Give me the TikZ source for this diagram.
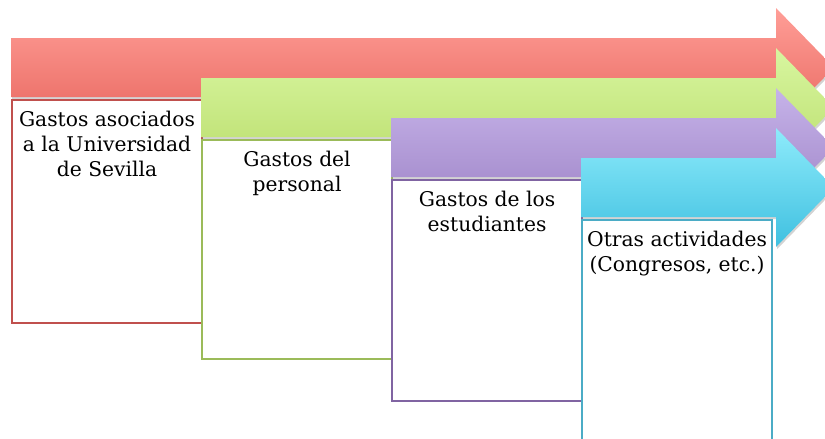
\documentclass[tikz,border=0pt]{standalone}
\usepackage{fontspec}
\setmainfont{DejaVu Serif}
\usepackage{tikz}
\usetikzlibrary{positioning,shadows}
\definecolor{redtop}{HTML}{FF9E97}
\definecolor{redbot}{HTML}{E8675F}
\definecolor{redline}{HTML}{C0504D}
\definecolor{greentop}{HTML}{D8F6A0}
\definecolor{greenbot}{HTML}{BBDE6E}
\definecolor{greenline}{HTML}{9BBB59}
\definecolor{violettop}{HTML}{C6B3E9}
\definecolor{violetbot}{HTML}{A086C8}
\definecolor{violetline}{HTML}{8064A2}
\definecolor{skytop}{HTML}{8EEBFB}
\definecolor{skybot}{HTML}{3FC0E0}
\definecolor{skyline}{HTML}{4BACC6}
\tikzstyle{band} = [drop shadow={opacity=0.35, shadow xshift=0.8pt, shadow yshift=-1.6pt}]
\tikzstyle{box} = [draw, line width=1.6pt, fill=white, rectangle, anchor=north west, minimum width=142.5pt, inner sep=0pt]
\tikzstyle{txt} = [align=center, inner sep=0pt, font=\fontsize{15.2}{18.75}\selectfont]

\begin{document}
\begin{tikzpicture}[x=0.75pt, y=-0.75pt]
            \useasboundingbox (0,0) rectangle (825,439);
            \clip (0,0) rectangle (825,439);

            \path [band, top color=redtop, bottom color=redbot] (11,38) -- (776,38) -- (776,8) -- (834,67.5) -- (776,127) -- (776,97) -- (11,97) -- cycle;
            \node [box, draw=redline, minimum height=167.25pt] (redbox) at (11,99) {};
            \node [txt, below=9pt of redbox.north] (redtext) {Gastos asociados\\a la Universidad\\de Sevilla};

            \path [band, top color=greentop, bottom color=greenbot] (201,78) -- (776,78) -- (776,48) -- (834,107.5) -- (776,167) -- (776,137) -- (201,137) -- cycle;
            \node [box, draw=greenline, minimum height=164.25pt] (greenbox) at (201,139) {};
            \node [txt, below=9pt of greenbox.north] (greentext) {Gastos del\\personal};

            \path [band, top color=violettop, bottom color=violetbot] (391,118) -- (776,118) -- (776,88) -- (834,147.5) -- (776,207) -- (776,177) -- (391,177) -- cycle;
            \node [box, draw=violetline, minimum height=165.75pt] (violetbox) at (391,179) {};
            \node [txt, below=9pt of violetbox.north] (violettext) {Gastos de los\\estudiantes};

            \path [band, top color=skytop, bottom color=skybot] (581,158) -- (776,158) -- (776,128) -- (834,187.5) -- (776,247) -- (776,217) -- (581,217) -- cycle;
            \node [box, draw=skyline, minimum height=200pt] (skybox) at (581,219) {};
            \node [txt, below=9pt of skybox.north] (skytext) {Otras actividades\\(Congresos, etc.)};
        \end{tikzpicture}
\end{document}
